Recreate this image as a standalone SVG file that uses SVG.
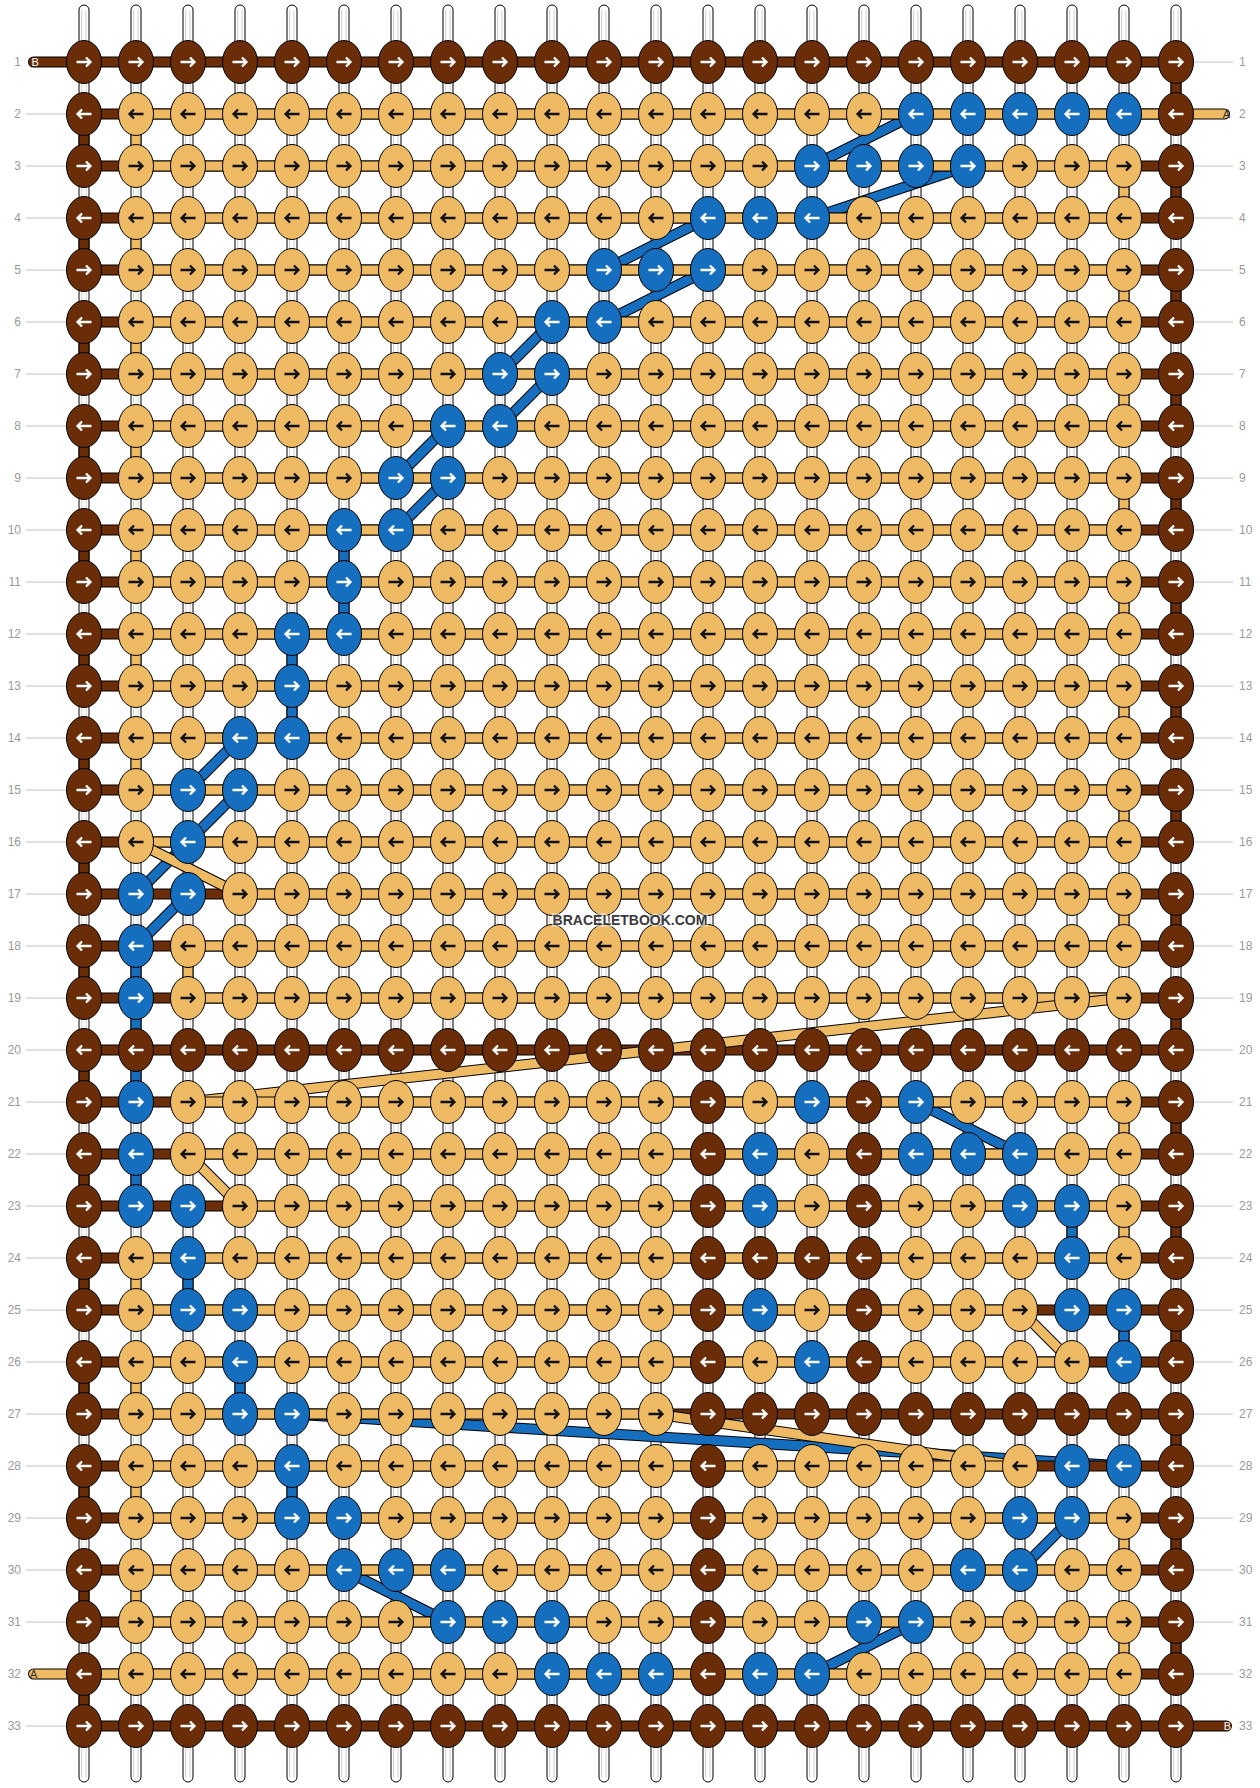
<svg xmlns="http://www.w3.org/2000/svg" xmlns:xlink="http://www.w3.org/1999/xlink" width="1260" height="1788" viewBox="0 0 1260 1788">
<style>
.lb{font-family:"Liberation Sans",Arial,sans-serif;font-size:12px;fill:#9a9a9a}
.ll{stroke:#c4c4c4;stroke-width:1;fill:none}
.rod rect{fill:#fff;stroke:#000;stroke-width:1}
.rod path{stroke:#d0d0d0;stroke-width:1;fill:none}
.ol{fill:none;stroke:#000;stroke-width:11;stroke-linecap:round;stroke-linejoin:round}
.tA{fill:none;stroke:#eeba63;stroke-width:9;stroke-linecap:round;stroke-linejoin:round}
.tB{fill:none;stroke:#6a2d08;stroke-width:9;stroke-linecap:round;stroke-linejoin:round}
.tU{fill:none;stroke:#166ebf;stroke-width:9;stroke-linecap:round;stroke-linejoin:round}
.kn{stroke:#000;stroke-width:1}
.cN{fill:#6a2d08}.cO{fill:#eeba63}.cU{fill:#166ebf}
.aw{fill:none;stroke:#fff;stroke-width:2.3}
.ab{fill:none;stroke:#111;stroke-width:2.3}
.tl{font-family:"Liberation Sans",Arial,sans-serif;font-size:11px}
.wm{font-family:"Liberation Sans",Arial,sans-serif;font-size:14px;font-weight:bold;fill:#3a3a3a;stroke:#fff;stroke-width:3;stroke-opacity:.6;paint-order:stroke}
</style>
<defs>
<g id="rod" class="rod"><rect x="-5" y="5" width="10" height="1777" rx="5"/><path d="M-2.3 10V1777M2 10V1777"/></g>
<path id="ar" d="M-7.5 0H6.5M2 -4.5L6.5 0L2 4.5"/>
<g id="NR"><ellipse class="kn cN" rx="17.5" ry="21.5"/><use href="#ar" class="aw"/></g>
<g id="NL"><ellipse class="kn cN" rx="17.5" ry="21.5"/><use href="#ar" class="aw" transform="scale(-1 1)"/></g>
<g id="OR"><ellipse class="kn cO" rx="17.5" ry="21.5"/><use href="#ar" class="ab"/></g>
<g id="OL"><ellipse class="kn cO" rx="17.5" ry="21.5"/><use href="#ar" class="ab" transform="scale(-1 1)"/></g>
<g id="UR"><ellipse class="kn cU" rx="17.5" ry="21.5"/><use href="#ar" class="aw"/></g>
<g id="UL"><ellipse class="kn cU" rx="17.5" ry="21.5"/><use href="#ar" class="aw" transform="scale(-1 1)"/></g>
</defs>
<rect width="1260" height="1788" fill="#fff"/>
<g id="rods">
<use href="#rod" x="84"/><use href="#rod" x="136"/><use href="#rod" x="188"/><use href="#rod" x="240"/><use href="#rod" x="292"/><use href="#rod" x="344"/><use href="#rod" x="396"/><use href="#rod" x="448"/><use href="#rod" x="500"/><use href="#rod" x="552"/><use href="#rod" x="604"/><use href="#rod" x="656"/><use href="#rod" x="708"/><use href="#rod" x="760"/><use href="#rod" x="812"/><use href="#rod" x="864"/><use href="#rod" x="916"/><use href="#rod" x="968"/><use href="#rod" x="1020"/><use href="#rod" x="1072"/><use href="#rod" x="1124"/><use href="#rod" x="1176"/>
</g>
<g id="row-labels">
<path class="ll" d="M26 114H70M26 166H70M26 218H70M26 270H70M26 322H70M26 374H70M26 426H70M26 478H70M26 530H70M26 582H70M26 634H70M26 686H70M26 738H70M26 790H70M26 842H70M26 894H70M26 946H70M26 998H70M26 1050H70M26 1102H70M26 1154H70M26 1206H70M26 1258H70M26 1310H70M26 1362H70M26 1414H70M26 1466H70M26 1518H70M26 1570H70M26 1622H70M26 1726H70"/>
<path class="ll" d="M1190 62H1233M1190 166H1233M1190 218H1233M1190 270H1233M1190 322H1233M1190 374H1233M1190 426H1233M1190 478H1233M1190 530H1233M1190 582H1233M1190 634H1233M1190 686H1233M1190 738H1233M1190 790H1233M1190 842H1233M1190 894H1233M1190 946H1233M1190 998H1233M1190 1050H1233M1190 1102H1233M1190 1154H1233M1190 1206H1233M1190 1258H1233M1190 1310H1233M1190 1362H1233M1190 1414H1233M1190 1466H1233M1190 1518H1233M1190 1570H1233M1190 1622H1233M1190 1674H1233"/>
<g class="lb" text-anchor="end">
<text x="21" y="66.3">1</text><text x="21" y="118.3">2</text><text x="21" y="170.3">3</text><text x="21" y="222.3">4</text><text x="21" y="274.3">5</text><text x="21" y="326.3">6</text><text x="21" y="378.3">7</text><text x="21" y="430.3">8</text><text x="21" y="482.3">9</text><text x="21" y="534.3">10</text><text x="21" y="586.3">11</text><text x="21" y="638.3">12</text><text x="21" y="690.3">13</text><text x="21" y="742.3">14</text><text x="21" y="794.3">15</text><text x="21" y="846.3">16</text><text x="21" y="898.3">17</text><text x="21" y="950.3">18</text><text x="21" y="1002.3">19</text><text x="21" y="1054.3">20</text><text x="21" y="1106.3">21</text><text x="21" y="1158.3">22</text><text x="21" y="1210.3">23</text><text x="21" y="1262.3">24</text><text x="21" y="1314.3">25</text><text x="21" y="1366.3">26</text><text x="21" y="1418.3">27</text><text x="21" y="1470.3">28</text><text x="21" y="1522.3">29</text><text x="21" y="1574.3">30</text><text x="21" y="1626.3">31</text><text x="21" y="1678.3">32</text><text x="21" y="1730.3">33</text>
</g>
<g class="lb">
<text x="1239" y="66.3">1</text><text x="1239" y="118.3">2</text><text x="1239" y="170.3">3</text><text x="1239" y="222.3">4</text><text x="1239" y="274.3">5</text><text x="1239" y="326.3">6</text><text x="1239" y="378.3">7</text><text x="1239" y="430.3">8</text><text x="1239" y="482.3">9</text><text x="1239" y="534.3">10</text><text x="1239" y="586.3">11</text><text x="1239" y="638.3">12</text><text x="1239" y="690.3">13</text><text x="1239" y="742.3">14</text><text x="1239" y="794.3">15</text><text x="1239" y="846.3">16</text><text x="1239" y="898.3">17</text><text x="1239" y="950.3">18</text><text x="1239" y="1002.3">19</text><text x="1239" y="1054.3">20</text><text x="1239" y="1106.3">21</text><text x="1239" y="1158.3">22</text><text x="1239" y="1210.3">23</text><text x="1239" y="1262.3">24</text><text x="1239" y="1314.3">25</text><text x="1239" y="1366.3">26</text><text x="1239" y="1418.3">27</text><text x="1239" y="1470.3">28</text><text x="1239" y="1522.3">29</text><text x="1239" y="1574.3">30</text><text x="1239" y="1626.3">31</text><text x="1239" y="1678.3">32</text><text x="1239" y="1730.3">33</text>
</g>
</g>
<g id="connectors">
<g id="thread-blue">
<path class="ol" d="M916 114L812 166M968 166L812 218M708 218L604 270M708 270L604 322M552 322L500 374M552 374L500 426M448 426L396 478M448 478L396 530M344 530V634M292 634V738M240 738L188 790M240 790L188 842M188 842L136 894M188 894L136 946M136 946V1102M916 1102L1020 1154M136 1154V1206M1072 1206V1258M188 1258V1310M1124 1310V1362M240 1362V1414M292 1414L1124 1466M292 1466V1518M1072 1518L1020 1570M344 1570L448 1622M916 1622L812 1674"/>
<path class="tU" d="M916 114L812 166M968 166L812 218M708 218L604 270M708 270L604 322M552 322L500 374M552 374L500 426M448 426L396 478M448 478L396 530M344 530V634M292 634V738M240 738L188 790M240 790L188 842M188 842L136 894M188 894L136 946M136 946V1102M916 1102L1020 1154M136 1154V1206M1072 1206V1258M188 1258V1310M1124 1310V1362M240 1362V1414M292 1414L1124 1466M292 1466V1518M1072 1518L1020 1570M344 1570L448 1622M916 1622L812 1674"/>
</g>
<g id="thread-B">
<path class="ol" d="M33.5 62H1176V114H84V166H1176V218H84V270H1176V322H84V374H1176V426H84V478H1176V530H84V582H1176V634H84V686H1176V738H84V790H1176V842H84V894H1176V946H84V998H1176V1050H84V1102H1176V1154H84V1206H1176V1258H84V1310H1176V1362H84V1414H1176V1466H84V1518H1176V1570H84V1622H1176V1674H84V1726H1226.5"/>
<path class="tB" d="M33.5 62H1176V114H84V166H1176V218H84V270H1176V322H84V374H1176V426H84V478H1176V530H84V582H1176V634H84V686H1176V738H84V790H1176V842H84V894H1176V946H84V998H1176V1050H84V1102H1176V1154H84V1206H1176V1258H84V1310H1176V1362H84V1414H1176V1466H84V1518H1176V1570H84V1622H1176V1674H84V1726H1226.5"/>
</g>
<g id="thread-A">
<path class="ol" d="M1224.5 114H136V166H1124V218H136V270H1124V322H136V374H1124V426H136V478H1124V530H136V582H1124V634H136V686H1124V738H136V790H1124V842H136"/>
<path class="tA" d="M1224.5 114H136V166H1124V218H136V270H1124V322H136V374H1124V426H136V478H1124V530H136V582H1124V634H136V686H1124V738H136V790H1124V842H136"/>
<path class="ol" d="M136 842L240 894"/><path class="tA" d="M136 842L240 894"/>
<path class="ol" d="M240 894H1124V946H188V998H1124"/><path class="tA" d="M240 894H1124V946H188V998H1124"/>
<path class="ol" d="M1124 998L188 1102"/><path class="tA" d="M1124 998L188 1102"/>
<path class="ol" d="M188 1102H1124V1154H188"/><path class="tA" d="M188 1102H1124V1154H188"/>
<path class="ol" d="M188 1154L240 1206"/><path class="tA" d="M188 1154L240 1206"/>
<path class="ol" d="M240 1206H1124V1258H136V1310H1020"/><path class="tA" d="M240 1206H1124V1258H136V1310H1020"/>
<path class="ol" d="M1020 1310L1072 1362"/><path class="tA" d="M1020 1310L1072 1362"/>
<path class="ol" d="M1072 1362H136V1414H656"/><path class="tA" d="M1072 1362H136V1414H656"/>
<path class="ol" d="M656 1414L1020 1466"/><path class="tA" d="M656 1414L1020 1466"/>
<path class="ol" d="M1020 1466H136V1518H1124V1570H136V1622H1124V1674H33.5"/><path class="tA" d="M1020 1466H136V1518H1124V1570H136V1622H1124V1674H33.5"/>
</g>
<g id="tail-labels" class="tl">
<text x="31.5" y="66" fill="#fff">B</text>
<text x="1230" y="118" fill="#333" text-anchor="end">A</text>
<text x="30" y="1678" fill="#333">A</text>
<text x="1231" y="1730" fill="#fff" text-anchor="end">B</text>
</g>
</g>
<g id="knots">
<g transform="translate(0 62)">
<g id="k1-1"><use href="#NR" x="84"/></g><g id="k1-2"><use href="#NR" x="136"/></g><g id="k1-3"><use href="#NR" x="188"/></g><g id="k1-4"><use href="#NR" x="240"/></g><g id="k1-5"><use href="#NR" x="292"/></g><g id="k1-6"><use href="#NR" x="344"/></g><g id="k1-7"><use href="#NR" x="396"/></g><g id="k1-8"><use href="#NR" x="448"/></g><g id="k1-9"><use href="#NR" x="500"/></g><g id="k1-10"><use href="#NR" x="552"/></g><g id="k1-11"><use href="#NR" x="604"/></g><g id="k1-12"><use href="#NR" x="656"/></g><g id="k1-13"><use href="#NR" x="708"/></g><g id="k1-14"><use href="#NR" x="760"/></g><g id="k1-15"><use href="#NR" x="812"/></g><g id="k1-16"><use href="#NR" x="864"/></g><g id="k1-17"><use href="#NR" x="916"/></g><g id="k1-18"><use href="#NR" x="968"/></g><g id="k1-19"><use href="#NR" x="1020"/></g><g id="k1-20"><use href="#NR" x="1072"/></g><g id="k1-21"><use href="#NR" x="1124"/></g><g id="k1-22"><use href="#NR" x="1176"/></g>
</g>
<g transform="translate(0 114)">
<g id="k2-1"><use href="#NL" x="84"/></g><g id="k2-2"><use href="#OL" x="136"/></g><g id="k2-3"><use href="#OL" x="188"/></g><g id="k2-4"><use href="#OL" x="240"/></g><g id="k2-5"><use href="#OL" x="292"/></g><g id="k2-6"><use href="#OL" x="344"/></g><g id="k2-7"><use href="#OL" x="396"/></g><g id="k2-8"><use href="#OL" x="448"/></g><g id="k2-9"><use href="#OL" x="500"/></g><g id="k2-10"><use href="#OL" x="552"/></g><g id="k2-11"><use href="#OL" x="604"/></g><g id="k2-12"><use href="#OL" x="656"/></g><g id="k2-13"><use href="#OL" x="708"/></g><g id="k2-14"><use href="#OL" x="760"/></g><g id="k2-15"><use href="#OL" x="812"/></g><g id="k2-16"><use href="#OL" x="864"/></g><g id="k2-17"><use href="#UL" x="916"/></g><g id="k2-18"><use href="#UL" x="968"/></g><g id="k2-19"><use href="#UL" x="1020"/></g><g id="k2-20"><use href="#UL" x="1072"/></g><g id="k2-21"><use href="#UL" x="1124"/></g><g id="k2-22"><use href="#NL" x="1176"/></g>
</g>
<g transform="translate(0 166)">
<g id="k3-1"><use href="#NR" x="84"/></g><g id="k3-2"><use href="#OR" x="136"/></g><g id="k3-3"><use href="#OR" x="188"/></g><g id="k3-4"><use href="#OR" x="240"/></g><g id="k3-5"><use href="#OR" x="292"/></g><g id="k3-6"><use href="#OR" x="344"/></g><g id="k3-7"><use href="#OR" x="396"/></g><g id="k3-8"><use href="#OR" x="448"/></g><g id="k3-9"><use href="#OR" x="500"/></g><g id="k3-10"><use href="#OR" x="552"/></g><g id="k3-11"><use href="#OR" x="604"/></g><g id="k3-12"><use href="#OR" x="656"/></g><g id="k3-13"><use href="#OR" x="708"/></g><g id="k3-14"><use href="#OR" x="760"/></g><g id="k3-15"><use href="#UR" x="812"/></g><g id="k3-16"><use href="#UR" x="864"/></g><g id="k3-17"><use href="#UR" x="916"/></g><g id="k3-18"><use href="#UR" x="968"/></g><g id="k3-19"><use href="#OR" x="1020"/></g><g id="k3-20"><use href="#OR" x="1072"/></g><g id="k3-21"><use href="#OR" x="1124"/></g><g id="k3-22"><use href="#NR" x="1176"/></g>
</g>
<g transform="translate(0 218)">
<g id="k4-1"><use href="#NL" x="84"/></g><g id="k4-2"><use href="#OL" x="136"/></g><g id="k4-3"><use href="#OL" x="188"/></g><g id="k4-4"><use href="#OL" x="240"/></g><g id="k4-5"><use href="#OL" x="292"/></g><g id="k4-6"><use href="#OL" x="344"/></g><g id="k4-7"><use href="#OL" x="396"/></g><g id="k4-8"><use href="#OL" x="448"/></g><g id="k4-9"><use href="#OL" x="500"/></g><g id="k4-10"><use href="#OL" x="552"/></g><g id="k4-11"><use href="#OL" x="604"/></g><g id="k4-12"><use href="#OL" x="656"/></g><g id="k4-13"><use href="#UL" x="708"/></g><g id="k4-14"><use href="#UL" x="760"/></g><g id="k4-15"><use href="#UL" x="812"/></g><g id="k4-16"><use href="#OL" x="864"/></g><g id="k4-17"><use href="#OL" x="916"/></g><g id="k4-18"><use href="#OL" x="968"/></g><g id="k4-19"><use href="#OL" x="1020"/></g><g id="k4-20"><use href="#OL" x="1072"/></g><g id="k4-21"><use href="#OL" x="1124"/></g><g id="k4-22"><use href="#NL" x="1176"/></g>
</g>
<g transform="translate(0 270)">
<g id="k5-1"><use href="#NR" x="84"/></g><g id="k5-2"><use href="#OR" x="136"/></g><g id="k5-3"><use href="#OR" x="188"/></g><g id="k5-4"><use href="#OR" x="240"/></g><g id="k5-5"><use href="#OR" x="292"/></g><g id="k5-6"><use href="#OR" x="344"/></g><g id="k5-7"><use href="#OR" x="396"/></g><g id="k5-8"><use href="#OR" x="448"/></g><g id="k5-9"><use href="#OR" x="500"/></g><g id="k5-10"><use href="#OR" x="552"/></g><g id="k5-11"><use href="#UR" x="604"/></g><g id="k5-12"><use href="#UR" x="656"/></g><g id="k5-13"><use href="#UR" x="708"/></g><g id="k5-14"><use href="#OR" x="760"/></g><g id="k5-15"><use href="#OR" x="812"/></g><g id="k5-16"><use href="#OR" x="864"/></g><g id="k5-17"><use href="#OR" x="916"/></g><g id="k5-18"><use href="#OR" x="968"/></g><g id="k5-19"><use href="#OR" x="1020"/></g><g id="k5-20"><use href="#OR" x="1072"/></g><g id="k5-21"><use href="#OR" x="1124"/></g><g id="k5-22"><use href="#NR" x="1176"/></g>
</g>
<g transform="translate(0 322)">
<g id="k6-1"><use href="#NL" x="84"/></g><g id="k6-2"><use href="#OL" x="136"/></g><g id="k6-3"><use href="#OL" x="188"/></g><g id="k6-4"><use href="#OL" x="240"/></g><g id="k6-5"><use href="#OL" x="292"/></g><g id="k6-6"><use href="#OL" x="344"/></g><g id="k6-7"><use href="#OL" x="396"/></g><g id="k6-8"><use href="#OL" x="448"/></g><g id="k6-9"><use href="#OL" x="500"/></g><g id="k6-10"><use href="#UL" x="552"/></g><g id="k6-11"><use href="#UL" x="604"/></g><g id="k6-12"><use href="#OL" x="656"/></g><g id="k6-13"><use href="#OL" x="708"/></g><g id="k6-14"><use href="#OL" x="760"/></g><g id="k6-15"><use href="#OL" x="812"/></g><g id="k6-16"><use href="#OL" x="864"/></g><g id="k6-17"><use href="#OL" x="916"/></g><g id="k6-18"><use href="#OL" x="968"/></g><g id="k6-19"><use href="#OL" x="1020"/></g><g id="k6-20"><use href="#OL" x="1072"/></g><g id="k6-21"><use href="#OL" x="1124"/></g><g id="k6-22"><use href="#NL" x="1176"/></g>
</g>
<g transform="translate(0 374)">
<g id="k7-1"><use href="#NR" x="84"/></g><g id="k7-2"><use href="#OR" x="136"/></g><g id="k7-3"><use href="#OR" x="188"/></g><g id="k7-4"><use href="#OR" x="240"/></g><g id="k7-5"><use href="#OR" x="292"/></g><g id="k7-6"><use href="#OR" x="344"/></g><g id="k7-7"><use href="#OR" x="396"/></g><g id="k7-8"><use href="#OR" x="448"/></g><g id="k7-9"><use href="#UR" x="500"/></g><g id="k7-10"><use href="#UR" x="552"/></g><g id="k7-11"><use href="#OR" x="604"/></g><g id="k7-12"><use href="#OR" x="656"/></g><g id="k7-13"><use href="#OR" x="708"/></g><g id="k7-14"><use href="#OR" x="760"/></g><g id="k7-15"><use href="#OR" x="812"/></g><g id="k7-16"><use href="#OR" x="864"/></g><g id="k7-17"><use href="#OR" x="916"/></g><g id="k7-18"><use href="#OR" x="968"/></g><g id="k7-19"><use href="#OR" x="1020"/></g><g id="k7-20"><use href="#OR" x="1072"/></g><g id="k7-21"><use href="#OR" x="1124"/></g><g id="k7-22"><use href="#NR" x="1176"/></g>
</g>
<g transform="translate(0 426)">
<g id="k8-1"><use href="#NL" x="84"/></g><g id="k8-2"><use href="#OL" x="136"/></g><g id="k8-3"><use href="#OL" x="188"/></g><g id="k8-4"><use href="#OL" x="240"/></g><g id="k8-5"><use href="#OL" x="292"/></g><g id="k8-6"><use href="#OL" x="344"/></g><g id="k8-7"><use href="#OL" x="396"/></g><g id="k8-8"><use href="#UL" x="448"/></g><g id="k8-9"><use href="#UL" x="500"/></g><g id="k8-10"><use href="#OL" x="552"/></g><g id="k8-11"><use href="#OL" x="604"/></g><g id="k8-12"><use href="#OL" x="656"/></g><g id="k8-13"><use href="#OL" x="708"/></g><g id="k8-14"><use href="#OL" x="760"/></g><g id="k8-15"><use href="#OL" x="812"/></g><g id="k8-16"><use href="#OL" x="864"/></g><g id="k8-17"><use href="#OL" x="916"/></g><g id="k8-18"><use href="#OL" x="968"/></g><g id="k8-19"><use href="#OL" x="1020"/></g><g id="k8-20"><use href="#OL" x="1072"/></g><g id="k8-21"><use href="#OL" x="1124"/></g><g id="k8-22"><use href="#NL" x="1176"/></g>
</g>
<g transform="translate(0 478)">
<g id="k9-1"><use href="#NR" x="84"/></g><g id="k9-2"><use href="#OR" x="136"/></g><g id="k9-3"><use href="#OR" x="188"/></g><g id="k9-4"><use href="#OR" x="240"/></g><g id="k9-5"><use href="#OR" x="292"/></g><g id="k9-6"><use href="#OR" x="344"/></g><g id="k9-7"><use href="#UR" x="396"/></g><g id="k9-8"><use href="#UR" x="448"/></g><g id="k9-9"><use href="#OR" x="500"/></g><g id="k9-10"><use href="#OR" x="552"/></g><g id="k9-11"><use href="#OR" x="604"/></g><g id="k9-12"><use href="#OR" x="656"/></g><g id="k9-13"><use href="#OR" x="708"/></g><g id="k9-14"><use href="#OR" x="760"/></g><g id="k9-15"><use href="#OR" x="812"/></g><g id="k9-16"><use href="#OR" x="864"/></g><g id="k9-17"><use href="#OR" x="916"/></g><g id="k9-18"><use href="#OR" x="968"/></g><g id="k9-19"><use href="#OR" x="1020"/></g><g id="k9-20"><use href="#OR" x="1072"/></g><g id="k9-21"><use href="#OR" x="1124"/></g><g id="k9-22"><use href="#NR" x="1176"/></g>
</g>
<g transform="translate(0 530)">
<g id="k10-1"><use href="#NL" x="84"/></g><g id="k10-2"><use href="#OL" x="136"/></g><g id="k10-3"><use href="#OL" x="188"/></g><g id="k10-4"><use href="#OL" x="240"/></g><g id="k10-5"><use href="#OL" x="292"/></g><g id="k10-6"><use href="#UL" x="344"/></g><g id="k10-7"><use href="#UL" x="396"/></g><g id="k10-8"><use href="#OL" x="448"/></g><g id="k10-9"><use href="#OL" x="500"/></g><g id="k10-10"><use href="#OL" x="552"/></g><g id="k10-11"><use href="#OL" x="604"/></g><g id="k10-12"><use href="#OL" x="656"/></g><g id="k10-13"><use href="#OL" x="708"/></g><g id="k10-14"><use href="#OL" x="760"/></g><g id="k10-15"><use href="#OL" x="812"/></g><g id="k10-16"><use href="#OL" x="864"/></g><g id="k10-17"><use href="#OL" x="916"/></g><g id="k10-18"><use href="#OL" x="968"/></g><g id="k10-19"><use href="#OL" x="1020"/></g><g id="k10-20"><use href="#OL" x="1072"/></g><g id="k10-21"><use href="#OL" x="1124"/></g><g id="k10-22"><use href="#NL" x="1176"/></g>
</g>
<g transform="translate(0 582)">
<g id="k11-1"><use href="#NR" x="84"/></g><g id="k11-2"><use href="#OR" x="136"/></g><g id="k11-3"><use href="#OR" x="188"/></g><g id="k11-4"><use href="#OR" x="240"/></g><g id="k11-5"><use href="#OR" x="292"/></g><g id="k11-6"><use href="#UR" x="344"/></g><g id="k11-7"><use href="#OR" x="396"/></g><g id="k11-8"><use href="#OR" x="448"/></g><g id="k11-9"><use href="#OR" x="500"/></g><g id="k11-10"><use href="#OR" x="552"/></g><g id="k11-11"><use href="#OR" x="604"/></g><g id="k11-12"><use href="#OR" x="656"/></g><g id="k11-13"><use href="#OR" x="708"/></g><g id="k11-14"><use href="#OR" x="760"/></g><g id="k11-15"><use href="#OR" x="812"/></g><g id="k11-16"><use href="#OR" x="864"/></g><g id="k11-17"><use href="#OR" x="916"/></g><g id="k11-18"><use href="#OR" x="968"/></g><g id="k11-19"><use href="#OR" x="1020"/></g><g id="k11-20"><use href="#OR" x="1072"/></g><g id="k11-21"><use href="#OR" x="1124"/></g><g id="k11-22"><use href="#NR" x="1176"/></g>
</g>
<g transform="translate(0 634)">
<g id="k12-1"><use href="#NL" x="84"/></g><g id="k12-2"><use href="#OL" x="136"/></g><g id="k12-3"><use href="#OL" x="188"/></g><g id="k12-4"><use href="#OL" x="240"/></g><g id="k12-5"><use href="#UL" x="292"/></g><g id="k12-6"><use href="#UL" x="344"/></g><g id="k12-7"><use href="#OL" x="396"/></g><g id="k12-8"><use href="#OL" x="448"/></g><g id="k12-9"><use href="#OL" x="500"/></g><g id="k12-10"><use href="#OL" x="552"/></g><g id="k12-11"><use href="#OL" x="604"/></g><g id="k12-12"><use href="#OL" x="656"/></g><g id="k12-13"><use href="#OL" x="708"/></g><g id="k12-14"><use href="#OL" x="760"/></g><g id="k12-15"><use href="#OL" x="812"/></g><g id="k12-16"><use href="#OL" x="864"/></g><g id="k12-17"><use href="#OL" x="916"/></g><g id="k12-18"><use href="#OL" x="968"/></g><g id="k12-19"><use href="#OL" x="1020"/></g><g id="k12-20"><use href="#OL" x="1072"/></g><g id="k12-21"><use href="#OL" x="1124"/></g><g id="k12-22"><use href="#NL" x="1176"/></g>
</g>
<g transform="translate(0 686)">
<g id="k13-1"><use href="#NR" x="84"/></g><g id="k13-2"><use href="#OR" x="136"/></g><g id="k13-3"><use href="#OR" x="188"/></g><g id="k13-4"><use href="#OR" x="240"/></g><g id="k13-5"><use href="#UR" x="292"/></g><g id="k13-6"><use href="#OR" x="344"/></g><g id="k13-7"><use href="#OR" x="396"/></g><g id="k13-8"><use href="#OR" x="448"/></g><g id="k13-9"><use href="#OR" x="500"/></g><g id="k13-10"><use href="#OR" x="552"/></g><g id="k13-11"><use href="#OR" x="604"/></g><g id="k13-12"><use href="#OR" x="656"/></g><g id="k13-13"><use href="#OR" x="708"/></g><g id="k13-14"><use href="#OR" x="760"/></g><g id="k13-15"><use href="#OR" x="812"/></g><g id="k13-16"><use href="#OR" x="864"/></g><g id="k13-17"><use href="#OR" x="916"/></g><g id="k13-18"><use href="#OR" x="968"/></g><g id="k13-19"><use href="#OR" x="1020"/></g><g id="k13-20"><use href="#OR" x="1072"/></g><g id="k13-21"><use href="#OR" x="1124"/></g><g id="k13-22"><use href="#NR" x="1176"/></g>
</g>
<g transform="translate(0 738)">
<g id="k14-1"><use href="#NL" x="84"/></g><g id="k14-2"><use href="#OL" x="136"/></g><g id="k14-3"><use href="#OL" x="188"/></g><g id="k14-4"><use href="#UL" x="240"/></g><g id="k14-5"><use href="#UL" x="292"/></g><g id="k14-6"><use href="#OL" x="344"/></g><g id="k14-7"><use href="#OL" x="396"/></g><g id="k14-8"><use href="#OL" x="448"/></g><g id="k14-9"><use href="#OL" x="500"/></g><g id="k14-10"><use href="#OL" x="552"/></g><g id="k14-11"><use href="#OL" x="604"/></g><g id="k14-12"><use href="#OL" x="656"/></g><g id="k14-13"><use href="#OL" x="708"/></g><g id="k14-14"><use href="#OL" x="760"/></g><g id="k14-15"><use href="#OL" x="812"/></g><g id="k14-16"><use href="#OL" x="864"/></g><g id="k14-17"><use href="#OL" x="916"/></g><g id="k14-18"><use href="#OL" x="968"/></g><g id="k14-19"><use href="#OL" x="1020"/></g><g id="k14-20"><use href="#OL" x="1072"/></g><g id="k14-21"><use href="#OL" x="1124"/></g><g id="k14-22"><use href="#NL" x="1176"/></g>
</g>
<g transform="translate(0 790)">
<g id="k15-1"><use href="#NR" x="84"/></g><g id="k15-2"><use href="#OR" x="136"/></g><g id="k15-3"><use href="#UR" x="188"/></g><g id="k15-4"><use href="#UR" x="240"/></g><g id="k15-5"><use href="#OR" x="292"/></g><g id="k15-6"><use href="#OR" x="344"/></g><g id="k15-7"><use href="#OR" x="396"/></g><g id="k15-8"><use href="#OR" x="448"/></g><g id="k15-9"><use href="#OR" x="500"/></g><g id="k15-10"><use href="#OR" x="552"/></g><g id="k15-11"><use href="#OR" x="604"/></g><g id="k15-12"><use href="#OR" x="656"/></g><g id="k15-13"><use href="#OR" x="708"/></g><g id="k15-14"><use href="#OR" x="760"/></g><g id="k15-15"><use href="#OR" x="812"/></g><g id="k15-16"><use href="#OR" x="864"/></g><g id="k15-17"><use href="#OR" x="916"/></g><g id="k15-18"><use href="#OR" x="968"/></g><g id="k15-19"><use href="#OR" x="1020"/></g><g id="k15-20"><use href="#OR" x="1072"/></g><g id="k15-21"><use href="#OR" x="1124"/></g><g id="k15-22"><use href="#NR" x="1176"/></g>
</g>
<g transform="translate(0 842)">
<g id="k16-1"><use href="#NL" x="84"/></g><g id="k16-2"><use href="#OL" x="136"/></g><g id="k16-3"><use href="#UL" x="188"/></g><g id="k16-4"><use href="#OL" x="240"/></g><g id="k16-5"><use href="#OL" x="292"/></g><g id="k16-6"><use href="#OL" x="344"/></g><g id="k16-7"><use href="#OL" x="396"/></g><g id="k16-8"><use href="#OL" x="448"/></g><g id="k16-9"><use href="#OL" x="500"/></g><g id="k16-10"><use href="#OL" x="552"/></g><g id="k16-11"><use href="#OL" x="604"/></g><g id="k16-12"><use href="#OL" x="656"/></g><g id="k16-13"><use href="#OL" x="708"/></g><g id="k16-14"><use href="#OL" x="760"/></g><g id="k16-15"><use href="#OL" x="812"/></g><g id="k16-16"><use href="#OL" x="864"/></g><g id="k16-17"><use href="#OL" x="916"/></g><g id="k16-18"><use href="#OL" x="968"/></g><g id="k16-19"><use href="#OL" x="1020"/></g><g id="k16-20"><use href="#OL" x="1072"/></g><g id="k16-21"><use href="#OL" x="1124"/></g><g id="k16-22"><use href="#NL" x="1176"/></g>
</g>
<g transform="translate(0 894)">
<g id="k17-1"><use href="#NR" x="84"/></g><g id="k17-2"><use href="#UR" x="136"/></g><g id="k17-3"><use href="#UR" x="188"/></g><g id="k17-4"><use href="#OR" x="240"/></g><g id="k17-5"><use href="#OR" x="292"/></g><g id="k17-6"><use href="#OR" x="344"/></g><g id="k17-7"><use href="#OR" x="396"/></g><g id="k17-8"><use href="#OR" x="448"/></g><g id="k17-9"><use href="#OR" x="500"/></g><g id="k17-10"><use href="#OR" x="552"/></g><g id="k17-11"><use href="#OR" x="604"/></g><g id="k17-12"><use href="#OR" x="656"/></g><g id="k17-13"><use href="#OR" x="708"/></g><g id="k17-14"><use href="#OR" x="760"/></g><g id="k17-15"><use href="#OR" x="812"/></g><g id="k17-16"><use href="#OR" x="864"/></g><g id="k17-17"><use href="#OR" x="916"/></g><g id="k17-18"><use href="#OR" x="968"/></g><g id="k17-19"><use href="#OR" x="1020"/></g><g id="k17-20"><use href="#OR" x="1072"/></g><g id="k17-21"><use href="#OR" x="1124"/></g><g id="k17-22"><use href="#NR" x="1176"/></g>
</g>
<g transform="translate(0 946)">
<g id="k18-1"><use href="#NL" x="84"/></g><g id="k18-2"><use href="#UL" x="136"/></g><g id="k18-3"><use href="#OL" x="188"/></g><g id="k18-4"><use href="#OL" x="240"/></g><g id="k18-5"><use href="#OL" x="292"/></g><g id="k18-6"><use href="#OL" x="344"/></g><g id="k18-7"><use href="#OL" x="396"/></g><g id="k18-8"><use href="#OL" x="448"/></g><g id="k18-9"><use href="#OL" x="500"/></g><g id="k18-10"><use href="#OL" x="552"/></g><g id="k18-11"><use href="#OL" x="604"/></g><g id="k18-12"><use href="#OL" x="656"/></g><g id="k18-13"><use href="#OL" x="708"/></g><g id="k18-14"><use href="#OL" x="760"/></g><g id="k18-15"><use href="#OL" x="812"/></g><g id="k18-16"><use href="#OL" x="864"/></g><g id="k18-17"><use href="#OL" x="916"/></g><g id="k18-18"><use href="#OL" x="968"/></g><g id="k18-19"><use href="#OL" x="1020"/></g><g id="k18-20"><use href="#OL" x="1072"/></g><g id="k18-21"><use href="#OL" x="1124"/></g><g id="k18-22"><use href="#NL" x="1176"/></g>
</g>
<g transform="translate(0 998)">
<g id="k19-1"><use href="#NR" x="84"/></g><g id="k19-2"><use href="#UR" x="136"/></g><g id="k19-3"><use href="#OR" x="188"/></g><g id="k19-4"><use href="#OR" x="240"/></g><g id="k19-5"><use href="#OR" x="292"/></g><g id="k19-6"><use href="#OR" x="344"/></g><g id="k19-7"><use href="#OR" x="396"/></g><g id="k19-8"><use href="#OR" x="448"/></g><g id="k19-9"><use href="#OR" x="500"/></g><g id="k19-10"><use href="#OR" x="552"/></g><g id="k19-11"><use href="#OR" x="604"/></g><g id="k19-12"><use href="#OR" x="656"/></g><g id="k19-13"><use href="#OR" x="708"/></g><g id="k19-14"><use href="#OR" x="760"/></g><g id="k19-15"><use href="#OR" x="812"/></g><g id="k19-16"><use href="#OR" x="864"/></g><g id="k19-17"><use href="#OR" x="916"/></g><g id="k19-18"><use href="#OR" x="968"/></g><g id="k19-19"><use href="#OR" x="1020"/></g><g id="k19-20"><use href="#OR" x="1072"/></g><g id="k19-21"><use href="#OR" x="1124"/></g><g id="k19-22"><use href="#NR" x="1176"/></g>
</g>
<g transform="translate(0 1050)">
<g id="k20-1"><use href="#NL" x="84"/></g><g id="k20-2"><use href="#NL" x="136"/></g><g id="k20-3"><use href="#NL" x="188"/></g><g id="k20-4"><use href="#NL" x="240"/></g><g id="k20-5"><use href="#NL" x="292"/></g><g id="k20-6"><use href="#NL" x="344"/></g><g id="k20-7"><use href="#NL" x="396"/></g><g id="k20-8"><use href="#NL" x="448"/></g><g id="k20-9"><use href="#NL" x="500"/></g><g id="k20-10"><use href="#NL" x="552"/></g><g id="k20-11"><use href="#NL" x="604"/></g><g id="k20-12"><use href="#NL" x="656"/></g><g id="k20-13"><use href="#NL" x="708"/></g><g id="k20-14"><use href="#NL" x="760"/></g><g id="k20-15"><use href="#NL" x="812"/></g><g id="k20-16"><use href="#NL" x="864"/></g><g id="k20-17"><use href="#NL" x="916"/></g><g id="k20-18"><use href="#NL" x="968"/></g><g id="k20-19"><use href="#NL" x="1020"/></g><g id="k20-20"><use href="#NL" x="1072"/></g><g id="k20-21"><use href="#NL" x="1124"/></g><g id="k20-22"><use href="#NL" x="1176"/></g>
</g>
<g transform="translate(0 1102)">
<g id="k21-1"><use href="#NR" x="84"/></g><g id="k21-2"><use href="#UR" x="136"/></g><g id="k21-3"><use href="#OR" x="188"/></g><g id="k21-4"><use href="#OR" x="240"/></g><g id="k21-5"><use href="#OR" x="292"/></g><g id="k21-6"><use href="#OR" x="344"/></g><g id="k21-7"><use href="#OR" x="396"/></g><g id="k21-8"><use href="#OR" x="448"/></g><g id="k21-9"><use href="#OR" x="500"/></g><g id="k21-10"><use href="#OR" x="552"/></g><g id="k21-11"><use href="#OR" x="604"/></g><g id="k21-12"><use href="#OR" x="656"/></g><g id="k21-13"><use href="#NR" x="708"/></g><g id="k21-14"><use href="#OR" x="760"/></g><g id="k21-15"><use href="#UR" x="812"/></g><g id="k21-16"><use href="#NR" x="864"/></g><g id="k21-17"><use href="#UR" x="916"/></g><g id="k21-18"><use href="#OR" x="968"/></g><g id="k21-19"><use href="#OR" x="1020"/></g><g id="k21-20"><use href="#OR" x="1072"/></g><g id="k21-21"><use href="#OR" x="1124"/></g><g id="k21-22"><use href="#NR" x="1176"/></g>
</g>
<g transform="translate(0 1154)">
<g id="k22-1"><use href="#NL" x="84"/></g><g id="k22-2"><use href="#UL" x="136"/></g><g id="k22-3"><use href="#OL" x="188"/></g><g id="k22-4"><use href="#OL" x="240"/></g><g id="k22-5"><use href="#OL" x="292"/></g><g id="k22-6"><use href="#OL" x="344"/></g><g id="k22-7"><use href="#OL" x="396"/></g><g id="k22-8"><use href="#OL" x="448"/></g><g id="k22-9"><use href="#OL" x="500"/></g><g id="k22-10"><use href="#OL" x="552"/></g><g id="k22-11"><use href="#OL" x="604"/></g><g id="k22-12"><use href="#OL" x="656"/></g><g id="k22-13"><use href="#NL" x="708"/></g><g id="k22-14"><use href="#UL" x="760"/></g><g id="k22-15"><use href="#OL" x="812"/></g><g id="k22-16"><use href="#NL" x="864"/></g><g id="k22-17"><use href="#UL" x="916"/></g><g id="k22-18"><use href="#UL" x="968"/></g><g id="k22-19"><use href="#UL" x="1020"/></g><g id="k22-20"><use href="#OL" x="1072"/></g><g id="k22-21"><use href="#OL" x="1124"/></g><g id="k22-22"><use href="#NL" x="1176"/></g>
</g>
<g transform="translate(0 1206)">
<g id="k23-1"><use href="#NR" x="84"/></g><g id="k23-2"><use href="#UR" x="136"/></g><g id="k23-3"><use href="#UR" x="188"/></g><g id="k23-4"><use href="#OR" x="240"/></g><g id="k23-5"><use href="#OR" x="292"/></g><g id="k23-6"><use href="#OR" x="344"/></g><g id="k23-7"><use href="#OR" x="396"/></g><g id="k23-8"><use href="#OR" x="448"/></g><g id="k23-9"><use href="#OR" x="500"/></g><g id="k23-10"><use href="#OR" x="552"/></g><g id="k23-11"><use href="#OR" x="604"/></g><g id="k23-12"><use href="#OR" x="656"/></g><g id="k23-13"><use href="#NR" x="708"/></g><g id="k23-14"><use href="#UR" x="760"/></g><g id="k23-15"><use href="#OR" x="812"/></g><g id="k23-16"><use href="#NR" x="864"/></g><g id="k23-17"><use href="#OR" x="916"/></g><g id="k23-18"><use href="#OR" x="968"/></g><g id="k23-19"><use href="#UR" x="1020"/></g><g id="k23-20"><use href="#UR" x="1072"/></g><g id="k23-21"><use href="#OR" x="1124"/></g><g id="k23-22"><use href="#NR" x="1176"/></g>
</g>
<g transform="translate(0 1258)">
<g id="k24-1"><use href="#NL" x="84"/></g><g id="k24-2"><use href="#OL" x="136"/></g><g id="k24-3"><use href="#UL" x="188"/></g><g id="k24-4"><use href="#OL" x="240"/></g><g id="k24-5"><use href="#OL" x="292"/></g><g id="k24-6"><use href="#OL" x="344"/></g><g id="k24-7"><use href="#OL" x="396"/></g><g id="k24-8"><use href="#OL" x="448"/></g><g id="k24-9"><use href="#OL" x="500"/></g><g id="k24-10"><use href="#OL" x="552"/></g><g id="k24-11"><use href="#OL" x="604"/></g><g id="k24-12"><use href="#OL" x="656"/></g><g id="k24-13"><use href="#NL" x="708"/></g><g id="k24-14"><use href="#NL" x="760"/></g><g id="k24-15"><use href="#NL" x="812"/></g><g id="k24-16"><use href="#NL" x="864"/></g><g id="k24-17"><use href="#OL" x="916"/></g><g id="k24-18"><use href="#OL" x="968"/></g><g id="k24-19"><use href="#OL" x="1020"/></g><g id="k24-20"><use href="#UL" x="1072"/></g><g id="k24-21"><use href="#OL" x="1124"/></g><g id="k24-22"><use href="#NL" x="1176"/></g>
</g>
<g transform="translate(0 1310)">
<g id="k25-1"><use href="#NR" x="84"/></g><g id="k25-2"><use href="#OR" x="136"/></g><g id="k25-3"><use href="#UR" x="188"/></g><g id="k25-4"><use href="#UR" x="240"/></g><g id="k25-5"><use href="#OR" x="292"/></g><g id="k25-6"><use href="#OR" x="344"/></g><g id="k25-7"><use href="#OR" x="396"/></g><g id="k25-8"><use href="#OR" x="448"/></g><g id="k25-9"><use href="#OR" x="500"/></g><g id="k25-10"><use href="#OR" x="552"/></g><g id="k25-11"><use href="#OR" x="604"/></g><g id="k25-12"><use href="#OR" x="656"/></g><g id="k25-13"><use href="#NR" x="708"/></g><g id="k25-14"><use href="#UR" x="760"/></g><g id="k25-15"><use href="#OR" x="812"/></g><g id="k25-16"><use href="#NR" x="864"/></g><g id="k25-17"><use href="#OR" x="916"/></g><g id="k25-18"><use href="#OR" x="968"/></g><g id="k25-19"><use href="#OR" x="1020"/></g><g id="k25-20"><use href="#UR" x="1072"/></g><g id="k25-21"><use href="#UR" x="1124"/></g><g id="k25-22"><use href="#NR" x="1176"/></g>
</g>
<g transform="translate(0 1362)">
<g id="k26-1"><use href="#NL" x="84"/></g><g id="k26-2"><use href="#OL" x="136"/></g><g id="k26-3"><use href="#OL" x="188"/></g><g id="k26-4"><use href="#UL" x="240"/></g><g id="k26-5"><use href="#OL" x="292"/></g><g id="k26-6"><use href="#OL" x="344"/></g><g id="k26-7"><use href="#OL" x="396"/></g><g id="k26-8"><use href="#OL" x="448"/></g><g id="k26-9"><use href="#OL" x="500"/></g><g id="k26-10"><use href="#OL" x="552"/></g><g id="k26-11"><use href="#OL" x="604"/></g><g id="k26-12"><use href="#OL" x="656"/></g><g id="k26-13"><use href="#NL" x="708"/></g><g id="k26-14"><use href="#OL" x="760"/></g><g id="k26-15"><use href="#UL" x="812"/></g><g id="k26-16"><use href="#NL" x="864"/></g><g id="k26-17"><use href="#OL" x="916"/></g><g id="k26-18"><use href="#OL" x="968"/></g><g id="k26-19"><use href="#OL" x="1020"/></g><g id="k26-20"><use href="#OL" x="1072"/></g><g id="k26-21"><use href="#UL" x="1124"/></g><g id="k26-22"><use href="#NL" x="1176"/></g>
</g>
<g transform="translate(0 1414)">
<g id="k27-1"><use href="#NR" x="84"/></g><g id="k27-2"><use href="#OR" x="136"/></g><g id="k27-3"><use href="#OR" x="188"/></g><g id="k27-4"><use href="#UR" x="240"/></g><g id="k27-5"><use href="#UR" x="292"/></g><g id="k27-6"><use href="#OR" x="344"/></g><g id="k27-7"><use href="#OR" x="396"/></g><g id="k27-8"><use href="#OR" x="448"/></g><g id="k27-9"><use href="#OR" x="500"/></g><g id="k27-10"><use href="#OR" x="552"/></g><g id="k27-11"><use href="#OR" x="604"/></g><g id="k27-12"><use href="#OR" x="656"/></g><g id="k27-13"><use href="#NR" x="708"/></g><g id="k27-14"><use href="#NR" x="760"/></g><g id="k27-15"><use href="#NR" x="812"/></g><g id="k27-16"><use href="#NR" x="864"/></g><g id="k27-17"><use href="#NR" x="916"/></g><g id="k27-18"><use href="#NR" x="968"/></g><g id="k27-19"><use href="#NR" x="1020"/></g><g id="k27-20"><use href="#NR" x="1072"/></g><g id="k27-21"><use href="#NR" x="1124"/></g><g id="k27-22"><use href="#NR" x="1176"/></g>
</g>
<g transform="translate(0 1466)">
<g id="k28-1"><use href="#NL" x="84"/></g><g id="k28-2"><use href="#OL" x="136"/></g><g id="k28-3"><use href="#OL" x="188"/></g><g id="k28-4"><use href="#OL" x="240"/></g><g id="k28-5"><use href="#UL" x="292"/></g><g id="k28-6"><use href="#OL" x="344"/></g><g id="k28-7"><use href="#OL" x="396"/></g><g id="k28-8"><use href="#OL" x="448"/></g><g id="k28-9"><use href="#OL" x="500"/></g><g id="k28-10"><use href="#OL" x="552"/></g><g id="k28-11"><use href="#OL" x="604"/></g><g id="k28-12"><use href="#OL" x="656"/></g><g id="k28-13"><use href="#NL" x="708"/></g><g id="k28-14"><use href="#OL" x="760"/></g><g id="k28-15"><use href="#OL" x="812"/></g><g id="k28-16"><use href="#OL" x="864"/></g><g id="k28-17"><use href="#OL" x="916"/></g><g id="k28-18"><use href="#OL" x="968"/></g><g id="k28-19"><use href="#OL" x="1020"/></g><g id="k28-20"><use href="#UL" x="1072"/></g><g id="k28-21"><use href="#UL" x="1124"/></g><g id="k28-22"><use href="#NL" x="1176"/></g>
</g>
<g transform="translate(0 1518)">
<g id="k29-1"><use href="#NR" x="84"/></g><g id="k29-2"><use href="#OR" x="136"/></g><g id="k29-3"><use href="#OR" x="188"/></g><g id="k29-4"><use href="#OR" x="240"/></g><g id="k29-5"><use href="#UR" x="292"/></g><g id="k29-6"><use href="#UR" x="344"/></g><g id="k29-7"><use href="#OR" x="396"/></g><g id="k29-8"><use href="#OR" x="448"/></g><g id="k29-9"><use href="#OR" x="500"/></g><g id="k29-10"><use href="#OR" x="552"/></g><g id="k29-11"><use href="#OR" x="604"/></g><g id="k29-12"><use href="#OR" x="656"/></g><g id="k29-13"><use href="#NR" x="708"/></g><g id="k29-14"><use href="#OR" x="760"/></g><g id="k29-15"><use href="#OR" x="812"/></g><g id="k29-16"><use href="#OR" x="864"/></g><g id="k29-17"><use href="#OR" x="916"/></g><g id="k29-18"><use href="#OR" x="968"/></g><g id="k29-19"><use href="#UR" x="1020"/></g><g id="k29-20"><use href="#UR" x="1072"/></g><g id="k29-21"><use href="#OR" x="1124"/></g><g id="k29-22"><use href="#NR" x="1176"/></g>
</g>
<g transform="translate(0 1570)">
<g id="k30-1"><use href="#NL" x="84"/></g><g id="k30-2"><use href="#OL" x="136"/></g><g id="k30-3"><use href="#OL" x="188"/></g><g id="k30-4"><use href="#OL" x="240"/></g><g id="k30-5"><use href="#OL" x="292"/></g><g id="k30-6"><use href="#UL" x="344"/></g><g id="k30-7"><use href="#UL" x="396"/></g><g id="k30-8"><use href="#UL" x="448"/></g><g id="k30-9"><use href="#OL" x="500"/></g><g id="k30-10"><use href="#OL" x="552"/></g><g id="k30-11"><use href="#OL" x="604"/></g><g id="k30-12"><use href="#OL" x="656"/></g><g id="k30-13"><use href="#NL" x="708"/></g><g id="k30-14"><use href="#OL" x="760"/></g><g id="k30-15"><use href="#OL" x="812"/></g><g id="k30-16"><use href="#OL" x="864"/></g><g id="k30-17"><use href="#OL" x="916"/></g><g id="k30-18"><use href="#UL" x="968"/></g><g id="k30-19"><use href="#UL" x="1020"/></g><g id="k30-20"><use href="#OL" x="1072"/></g><g id="k30-21"><use href="#OL" x="1124"/></g><g id="k30-22"><use href="#NL" x="1176"/></g>
</g>
<g transform="translate(0 1622)">
<g id="k31-1"><use href="#NR" x="84"/></g><g id="k31-2"><use href="#OR" x="136"/></g><g id="k31-3"><use href="#OR" x="188"/></g><g id="k31-4"><use href="#OR" x="240"/></g><g id="k31-5"><use href="#OR" x="292"/></g><g id="k31-6"><use href="#OR" x="344"/></g><g id="k31-7"><use href="#OR" x="396"/></g><g id="k31-8"><use href="#UR" x="448"/></g><g id="k31-9"><use href="#UR" x="500"/></g><g id="k31-10"><use href="#UR" x="552"/></g><g id="k31-11"><use href="#OR" x="604"/></g><g id="k31-12"><use href="#OR" x="656"/></g><g id="k31-13"><use href="#NR" x="708"/></g><g id="k31-14"><use href="#OR" x="760"/></g><g id="k31-15"><use href="#OR" x="812"/></g><g id="k31-16"><use href="#UR" x="864"/></g><g id="k31-17"><use href="#UR" x="916"/></g><g id="k31-18"><use href="#OR" x="968"/></g><g id="k31-19"><use href="#OR" x="1020"/></g><g id="k31-20"><use href="#OR" x="1072"/></g><g id="k31-21"><use href="#OR" x="1124"/></g><g id="k31-22"><use href="#NR" x="1176"/></g>
</g>
<g transform="translate(0 1674)">
<g id="k32-1"><use href="#NL" x="84"/></g><g id="k32-2"><use href="#OL" x="136"/></g><g id="k32-3"><use href="#OL" x="188"/></g><g id="k32-4"><use href="#OL" x="240"/></g><g id="k32-5"><use href="#OL" x="292"/></g><g id="k32-6"><use href="#OL" x="344"/></g><g id="k32-7"><use href="#OL" x="396"/></g><g id="k32-8"><use href="#OL" x="448"/></g><g id="k32-9"><use href="#OL" x="500"/></g><g id="k32-10"><use href="#UL" x="552"/></g><g id="k32-11"><use href="#UL" x="604"/></g><g id="k32-12"><use href="#UL" x="656"/></g><g id="k32-13"><use href="#NL" x="708"/></g><g id="k32-14"><use href="#UL" x="760"/></g><g id="k32-15"><use href="#UL" x="812"/></g><g id="k32-16"><use href="#OL" x="864"/></g><g id="k32-17"><use href="#OL" x="916"/></g><g id="k32-18"><use href="#OL" x="968"/></g><g id="k32-19"><use href="#OL" x="1020"/></g><g id="k32-20"><use href="#OL" x="1072"/></g><g id="k32-21"><use href="#OL" x="1124"/></g><g id="k32-22"><use href="#NL" x="1176"/></g>
</g>
<g transform="translate(0 1726)">
<g id="k33-1"><use href="#NR" x="84"/></g><g id="k33-2"><use href="#NR" x="136"/></g><g id="k33-3"><use href="#NR" x="188"/></g><g id="k33-4"><use href="#NR" x="240"/></g><g id="k33-5"><use href="#NR" x="292"/></g><g id="k33-6"><use href="#NR" x="344"/></g><g id="k33-7"><use href="#NR" x="396"/></g><g id="k33-8"><use href="#NR" x="448"/></g><g id="k33-9"><use href="#NR" x="500"/></g><g id="k33-10"><use href="#NR" x="552"/></g><g id="k33-11"><use href="#NR" x="604"/></g><g id="k33-12"><use href="#NR" x="656"/></g><g id="k33-13"><use href="#NR" x="708"/></g><g id="k33-14"><use href="#NR" x="760"/></g><g id="k33-15"><use href="#NR" x="812"/></g><g id="k33-16"><use href="#NR" x="864"/></g><g id="k33-17"><use href="#NR" x="916"/></g><g id="k33-18"><use href="#NR" x="968"/></g><g id="k33-19"><use href="#NR" x="1020"/></g><g id="k33-20"><use href="#NR" x="1072"/></g><g id="k33-21"><use href="#NR" x="1124"/></g><g id="k33-22"><use href="#NR" x="1176"/></g>
</g>
</g>
<text class="wm" x="630" y="924.5" text-anchor="middle">BRACELETBOOK.COM</text>
</svg>
